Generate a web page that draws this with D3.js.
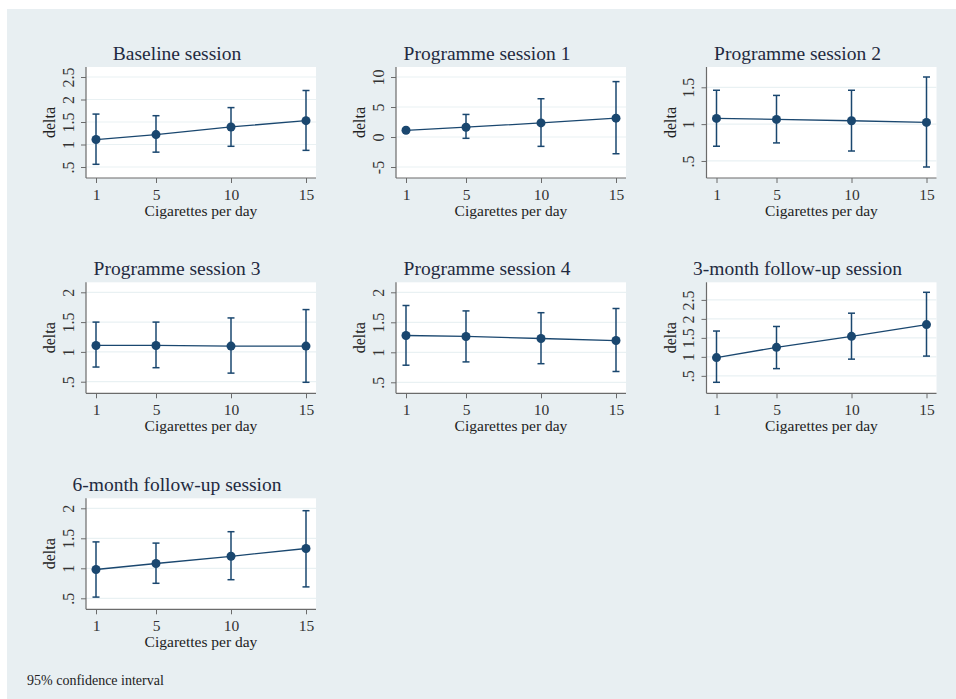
<!DOCTYPE html>
<html>
<head>
<meta charset="UTF-8">
<script src="https://d3js.org/d3.v7.min.js"></script>
<style>
  body { margin: 0; background: #fff; }
  svg text { font-family: 'Liberation Serif', 'Times New Roman', serif; }
</style>
</head>
<body>
<svg id="chart" width="956" height="699"></svg>
<script>
  // data
  const titles = [
    "Baseline session", "Programme session 1", "Programme session 2",
    "Programme session 3", "Programme session 4", "3-month follow-up session",
    "6-month follow-up session"
  ];
  const cigs = [1, 5, 10, 15];
  const delta = [
    [1.11, 1.22, 1.39, 1.53],
    [1.12, 1.63, 2.35, 3.14],
    [1.078, 1.064, 1.046, 1.023],
    [1.108, 1.108, 1.097, 1.097],
    [1.28, 1.264, 1.23, 1.196],
    [0.98, 1.25, 1.54, 1.85],
    [0.98, 1.08, 1.20, 1.33]
  ];
  const lower = [
    [0.56, 0.83, 0.96, 0.87],
    [0.92, -0.22, -1.56, -2.79],
    [0.70, 0.745, 0.635, 0.418],
    [0.746, 0.735, 0.644, 0.49],
    [0.785, 0.84, 0.81, 0.68],
    [0.33, 0.69, 0.94, 1.02],
    [0.52, 0.75, 0.81, 0.69]
  ];
  const upper = [
    [1.676, 1.64, 1.82, 2.2],
    [1.32, 3.76, 6.38, 9.23],
    [1.46, 1.39, 1.46, 1.64],
    [1.5, 1.5, 1.57, 1.71],
    [1.78, 1.69, 1.66, 1.73],
    [1.68, 1.80, 2.15, 2.70],
    [1.44, 1.42, 1.61, 1.96]
  ];
  const yTicks = [
    [0.5, 1, 1.5, 2, 2.5],
    [-5, 0, 5, 10],
    [0.5, 1, 1.5],
    [0.5, 1, 1.5, 2],
    [0.5, 1, 1.5, 2],
    [0.5, 1, 1.5, 2, 2.5],
    [0.5, 1, 1.5, 2]
  ];
  const note = "95% confidence interval";

  const navy = "#1a476f";
  const svg = d3.select("#chart");

  // graph background
  svg.append("rect").attr("x", 7).attr("y", 9).attr("width", 949).attr("height", 690)
    .attr("fill", "#e8eff2");

  const pw = 230, ph = 111;
  const colX = [86, 396, 706.5];
  const rowY = [67, 282.3, 498.3];
  const fmt = d => String(d).replace(/^0\./, ".");

  titles.forEach((title, i) => {
    const left = colX[i % 3], top = rowY[Math.floor(i / 3)];
    const g = svg.append("g").attr("transform", `translate(${left},${top})`);

    const ticks = yTicks[i];
    const ymin = Math.min(ticks[0], d3.min(lower[i]));
    const ymax = Math.max(ticks[ticks.length - 1], d3.max(upper[i]));
    const x = d3.scaleLinear().domain([1, 15]).range([10, pw - 10]);
    const y = d3.scaleLinear().domain([ymin, ymax]).range([ph - 11, 10]);

    g.append("rect").attr("width", pw).attr("height", ph).attr("fill", "#fff");

    // gridlines
    g.selectAll(".grid").data(ticks).join("line")
      .attr("x1", 0).attr("x2", pw)
      .attr("y1", d => y(d)).attr("y2", d => y(d))
      .attr("stroke", "#e9f1f3").attr("stroke-width", 1.2);

    // y axis
    const ya = g.append("g").call(d3.axisLeft(y).tickValues(ticks).tickSize(5).tickFormat(fmt));
    ya.select(".domain").remove();
    ya.selectAll(".tick line").attr("stroke", "#6b6b6b");
    ya.selectAll(".tick text")
      .attr("transform", "rotate(-90)")
      .attr("x", 0).attr("y", -12.5).attr("dy", 0)
      .attr("text-anchor", "middle")
      .attr("font-size", 16).attr("font-family", "Liberation Serif").attr("fill", "#333");

    // x axis
    const xa = g.append("g").attr("transform", `translate(0,${ph})`)
      .call(d3.axisBottom(x).tickValues(cigs).tickSize(5));
    xa.select(".domain").remove();
    xa.selectAll(".tick line").attr("stroke", "#6b6b6b");
    xa.selectAll(".tick text")
      .attr("y", 22).attr("dy", 0)
      .attr("font-size", 15.5).attr("font-family", "Liberation Serif").attr("fill", "#333");

    g.append("line").attr("x1", 0).attr("x2", 0).attr("y1", 0).attr("y2", ph)
      .attr("stroke", "#6b6b6b").attr("stroke-width", 1.2);
    g.append("line").attr("x1", 0).attr("x2", pw).attr("y1", ph).attr("y2", ph)
      .attr("stroke", "#6b6b6b").attr("stroke-width", 1.2);

    // error bars
    const bars = g.selectAll(".ci").data(cigs).join("g").attr("stroke", navy).attr("stroke-width", 1.5);
    bars.append("line").attr("x1", d => x(d)).attr("x2", d => x(d))
      .attr("y1", (d, j) => y(lower[i][j])).attr("y2", (d, j) => y(upper[i][j]));
    bars.append("line").attr("x1", d => x(d) - 3.5).attr("x2", d => x(d) + 3.5)
      .attr("y1", (d, j) => y(lower[i][j])).attr("y2", (d, j) => y(lower[i][j]));
    bars.append("line").attr("x1", d => x(d) - 3.5).attr("x2", d => x(d) + 3.5)
      .attr("y1", (d, j) => y(upper[i][j])).attr("y2", (d, j) => y(upper[i][j]));

    // line + markers
    g.append("path").datum(cigs)
      .attr("d", d3.line().x(d => x(d)).y((d, j) => y(delta[i][j])))
      .attr("fill", "none").attr("stroke", navy).attr("stroke-width", 1.3);
    g.selectAll(".pt").data(cigs).join("circle")
      .attr("cx", d => x(d)).attr("cy", (d, j) => y(delta[i][j]))
      .attr("r", 4.5).attr("fill", navy);

    // labels
    g.append("text").attr("x", 91).attr("y", -7.5).attr("text-anchor", "middle")
      .attr("font-size", 19.5).attr("fill", "#1f2a40").text(title);
    g.append("text").attr("x", pw / 2).attr("y", ph + 38).attr("text-anchor", "middle")
      .attr("font-size", 15.5).attr("fill", "#222").text("Cigarettes per day");
    g.append("text").attr("transform", `translate(-31,${ph / 2}) rotate(-90)`)
      .attr("text-anchor", "middle").attr("font-size", 16).attr("fill", "#222").text("delta");
  });

  svg.append("text").attr("x", 27).attr("y", 685).attr("font-size", 14)
    .attr("fill", "#222").text(note);
</script>
</body>
</html>
